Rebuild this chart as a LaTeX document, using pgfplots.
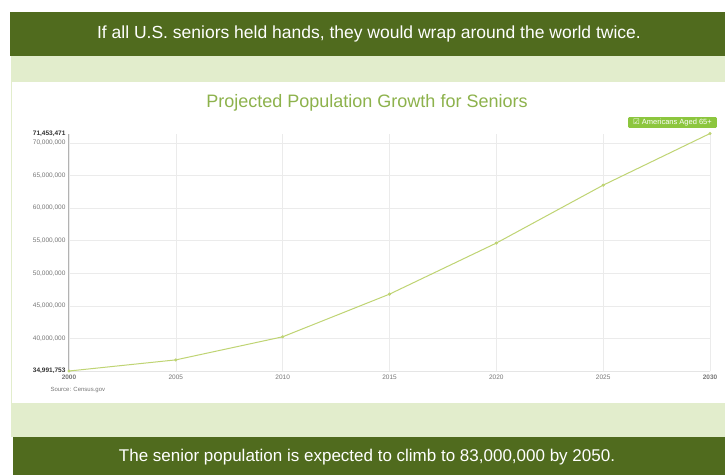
\documentclass[border=0pt]{standalone}
\usepackage{fontspec}
\setmainfont{Liberation Sans}
\newfontfamily\symfont{DejaVu Sans}
\usepackage{pgfplots}
\pgfplotsset{compat=1.18}
\definecolor{darkgreen}{HTML}{506B1E}
\definecolor{lightband}{HTML}{E2EDCC}
\definecolor{titlegreen}{HTML}{8DB24C}
\definecolor{linegreen}{HTML}{BFD473}
\definecolor{legendgreen}{HTML}{8CC63E}
\definecolor{ticktext}{HTML}{777777}

\begin{document}
\begin{tikzpicture}[x=1pt,y=1pt]
% page bands
\fill[white] (0,0) rectangle (725,-475);
\fill[darkgreen] (10,-12) rectangle (725,-56);
\fill[lightband] (11,-56) rectangle (725,-437);
\fill[white] (12,-82) rectangle (725,-403);
\fill[darkgreen] (13,-437) rectangle (725,-475);

\node[white, font=\fontsize{17.5}{20}\selectfont] at (369,-34)
  {If all U.S. seniors held hands, they would wrap around the world twice.};
\node[white, font=\fontsize{17}{20}\selectfont] at (367,-457)
  {The senior population is expected to climb to 83,000,000 by 2050.};
\node[titlegreen, font=\fontsize{18}{21}\selectfont] at (367,-103)
  {Projected Population Growth for Seniors};

\begin{axis}[
    at={(69pt,-371pt)}, anchor=south west,
    scale only axis, width=641pt, height=237.5pt,
    xmin=2000, xmax=2030,
    ymin=34991753, ymax=71453471,
    xtick={2000,2005,...,2030},
    xticklabels={\textbf{2000},2005,2010,2015,2020,2025,\textbf{2030}},
    ytick={40000000,45000000,50000000,55000000,60000000,65000000,70000000},
    extra y ticks={34991753,71453471},
    extra y tick style={grid=none, tick label style={font=\fontsize{6.5}{7}\selectfont\bfseries, text=black!80}},
    scaled y ticks=false,
    yticklabel style={/pgf/number format/.cd, fixed, precision=0, 1000 sep={,}},
    /pgf/number format/assume math mode=true,
    tick label style={font=\fontsize{6.5}{7}\selectfont, text=ticktext},
    major tick length=0pt,
    grid=major,
    major grid style={black!8, line width=0.5pt},
    axis lines*=left,
    x axis line style={black!10},
    y axis line style={black!30, line width=1pt},
    clip=false,
  ]
  \addplot[linegreen, line width=1pt, mark=*, mark size=1pt,
           mark options={fill=linegreen!70!black, draw=none}]
    coordinates {
      (2000,34991753) (2005,36700000) (2010,40243713) (2015,46790727)
      (2020,54631891) (2025,63523732) (2030,71453471)
    };
\end{axis}

\node[fill=legendgreen, text=white, font=\fontsize{7.5}{8}\selectfont,
      rounded corners=1pt, inner ysep=1.8pt, inner xsep=5pt, anchor=east]
  at (717,-122.5) {{\symfont ☑}~Americans Aged 65+};
\node[ticktext, font=\fontsize{6}{7}\selectfont, anchor=west] at (47,-390)
  {Source: Census.gov};
\end{tikzpicture}
\end{document}
